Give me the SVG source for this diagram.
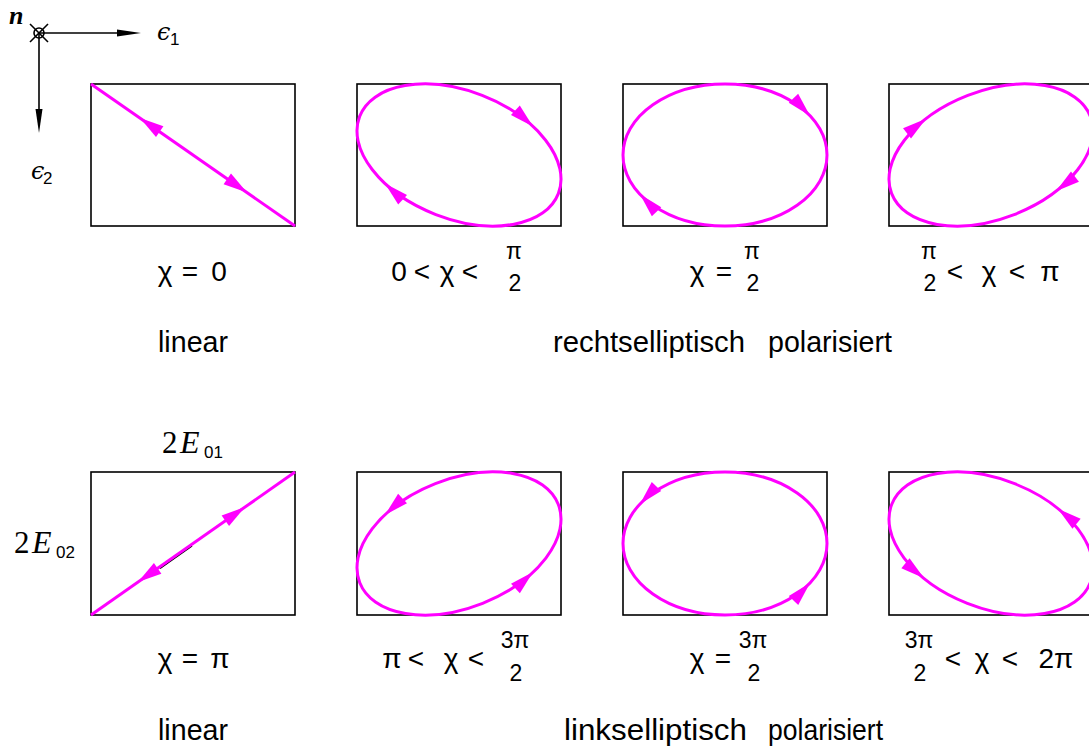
<svg xmlns="http://www.w3.org/2000/svg" width="1089" height="747" viewBox="0 0 1089 747">
<defs>
<style>
.box{fill:#fff;stroke:#000;stroke-width:1.6}
.pol{fill:none;stroke:#ff00ff;stroke-width:3}
.ah{fill:#ff00ff}
.lbl{font-family:"Liberation Sans",Arial,sans-serif;font-size:28px;fill:#000;text-anchor:middle}
.frac{font-family:"Liberation Sans",Arial,sans-serif;font-size:23px;fill:#000;text-anchor:middle}
.name{font-family:"Liberation Sans",Arial,sans-serif;font-size:29px;fill:#000}
.mi{font-family:"Liberation Serif","Times New Roman",serif;font-style:italic;font-size:32px;fill:#000}
.mr{font-family:"Liberation Serif","Times New Roman",serif;font-size:31px;fill:#000}
.sub{font-family:"Liberation Sans",Arial,sans-serif;font-size:17px;fill:#000}
.eps{font-family:"DejaVu Serif",serif;font-style:italic;font-size:24px;fill:#000}
.ax{stroke:#000;stroke-width:1.6;fill:none}
</style>
<path id="ah" d="M0,0 L-24,-6.5 L-24,6.5 Z"/>
<path id="axh" d="M0,0 L-24,-3.5 L-24,3.5 Z"/>
</defs>
<rect width="1089" height="747" fill="#fff"/>

<g id="axes">
<line class="ax" x1="39" y1="33" x2="130" y2="33"/>
<line class="ax" x1="39" y1="33" x2="39" y2="122"/>
<use href="#axh" fill="#000" transform="translate(141,33)"/>
<use href="#axh" fill="#000" transform="translate(39,133) rotate(90)"/>
<circle class="ax" cx="39" cy="33" r="5" stroke-width="1.3"/>
<line class="ax" x1="30" y1="24" x2="48" y2="42" stroke-width="1.3"/>
<line class="ax" x1="30" y1="42" x2="48" y2="24" stroke-width="1.3"/>
<text x="9" y="24" font-family="Liberation Serif,serif" font-style="italic" font-weight="bold" font-size="26">n</text>
<text class="eps" x="157" y="40">ϵ</text><text class="sub" x="170" y="45" font-size="14">1</text>
<text class="eps" x="31" y="179">ϵ</text><text class="sub" x="43" y="184" font-size="14">2</text>
</g>

<g id="panel-r1">
<rect class="box" x="91" y="84" width="204" height="142"/>
<line class="pol" x1="91" y1="84" x2="295" y2="226"/>
<use href="#ah" class="ah" transform="translate(140,118) rotate(214.8)"/>
<use href="#ah" class="ah" transform="translate(247,192.6) rotate(34.8)"/>
<text class="lbl" x="165" y="281">χ</text><text class="lbl" x="190" y="281">=</text><text class="lbl" x="219" y="281">0</text>
<text class="name" x="158" y="352" textLength="70" lengthAdjust="spacingAndGlyphs">linear</text>
</g>

<g id="panel-r2">
<rect class="box" x="357" y="84" width="204" height="142"/>
<ellipse class="pol" cx="459" cy="155" rx="106.6" ry="63.9" transform="rotate(21.25 459 155)"/>
<use href="#ah" class="ah" transform="translate(533,126.5) rotate(42.8)"/>
<use href="#ah" class="ah" transform="translate(385,183.5) rotate(222.8)"/>
<text class="lbl" x="399" y="281">0</text><text class="lbl" x="422" y="281">&lt;</text><text class="lbl" x="447" y="281">χ</text><text class="lbl" x="470" y="281">&lt;</text>
<text class="frac" x="514" y="259">π</text><text class="frac" x="515" y="291">2</text>
</g>

<g id="panel-r3">
<rect class="box" x="623" y="84" width="204" height="142"/>
<ellipse class="pol" cx="725" cy="155" rx="102" ry="71"/>
<use href="#ah" class="ah" transform="translate(810,115.7) rotate(46.4)"/>
<use href="#ah" class="ah" transform="translate(640,194.3) rotate(226.4)"/>
<text class="lbl" x="697" y="281">χ</text><text class="lbl" x="724" y="281">=</text>
<text class="frac" x="752" y="259">π</text><text class="frac" x="753" y="291">2</text>
</g>

<g id="panel-r4">
<rect class="box" x="889" y="84" width="204" height="142"/>
<ellipse class="pol" cx="991" cy="155" rx="106.6" ry="63.9" transform="rotate(-21.25 991 155)"/>
<use href="#ah" class="ah" transform="translate(926,118.7) rotate(-37.8)"/>
<use href="#ah" class="ah" transform="translate(1056,191.3) rotate(142.2)"/>
<text class="frac" x="929" y="259">π</text><text class="frac" x="930" y="291">2</text>
<text class="lbl" x="955" y="281">&lt;</text><text class="lbl" x="989" y="281">χ</text><text class="lbl" x="1017" y="281">&lt;</text><text class="lbl" x="1050" y="281">π</text>
</g>

<g id="caption-right">
<text class="name" x="553" y="352" textLength="192" lengthAdjust="spacingAndGlyphs">rechtselliptisch</text>
<text class="name" x="768" y="352" textLength="124" lengthAdjust="spacingAndGlyphs">polarisiert</text>
</g>

<g id="panel-l1">
<rect class="box" x="91" y="472" width="204" height="143"/>
<line x1="160" y1="568.5" x2="192" y2="546" stroke="#000" stroke-width="1.5"/>
<line class="pol" x1="91" y1="615" x2="295" y2="472"/>
<use href="#ah" class="ah" transform="translate(245,507) rotate(-35)"/>
<use href="#ah" class="ah" transform="translate(138,582.1) rotate(145)"/>
<text class="mr" x="162" y="453">2</text><text class="mi" x="180" y="453">E</text><text class="sub" x="204" y="458">01</text>
<text class="mr" x="14" y="553">2</text><text class="mi" x="32" y="553">E</text><text class="sub" x="56" y="558">02</text>
<text class="lbl" x="165" y="668">χ</text><text class="lbl" x="190" y="668">=</text><text class="lbl" x="220" y="668">π</text>
<text class="name" x="158" y="740" textLength="70" lengthAdjust="spacingAndGlyphs">linear</text>
</g>

<g id="panel-l2">
<rect class="box" x="357" y="472" width="204" height="143"/>
<ellipse class="pol" cx="459" cy="543.5" rx="106.7" ry="64.3" transform="rotate(-21.57 459 543.5)"/>
<use href="#ah" class="ah" transform="translate(533,572.1) rotate(-43)"/>
<use href="#ah" class="ah" transform="translate(385,514.9) rotate(137)"/>
<text class="lbl" x="392" y="668">π</text><text class="lbl" x="416" y="668">&lt;</text><text class="lbl" x="451" y="668">χ</text><text class="lbl" x="476" y="668">&lt;</text>
<text class="frac" x="515" y="648">3π</text><text class="frac" x="516" y="681">2</text>
</g>

<g id="panel-l3">
<rect class="box" x="623" y="472" width="204" height="143"/>
<ellipse class="pol" cx="725" cy="543.5" rx="102" ry="71.5"/>
<use href="#ah" class="ah" transform="translate(810,583) rotate(-46.6)"/>
<use href="#ah" class="ah" transform="translate(640,504) rotate(133.4)"/>
<text class="lbl" x="697" y="668">χ</text><text class="lbl" x="723" y="668">=</text>
<text class="frac" x="753" y="648">3π</text><text class="frac" x="754" y="681">2</text>
</g>

<g id="panel-l4">
<rect class="box" x="889" y="472" width="204" height="143"/>
<ellipse class="pol" cx="991" cy="543.5" rx="106.7" ry="64.3" transform="rotate(21.57 991 543.5)"/>
<use href="#ah" class="ah" transform="translate(924.1,578.3) rotate(39)"/>
<use href="#ah" class="ah" transform="translate(1057.9,508.7) rotate(219)"/>
<text class="frac" x="919" y="648">3π</text><text class="frac" x="920" y="681">2</text>
<text class="lbl" x="953" y="668">&lt;</text><text class="lbl" x="982" y="668">χ</text><text class="lbl" x="1010" y="668">&lt;</text><text class="lbl" x="1056" y="668">2π</text>
</g>

<g id="caption-left">
<text class="name" x="564" y="740" textLength="183" lengthAdjust="spacingAndGlyphs">linkselliptisch</text>
<text class="name" x="768" y="740" textLength="115" lengthAdjust="spacingAndGlyphs">polarisiert</text>
</g>
</svg>
